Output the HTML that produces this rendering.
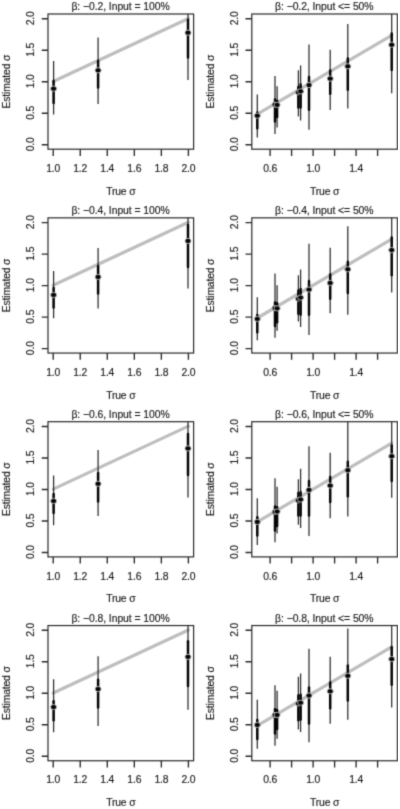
<!DOCTYPE html>
<html><head><meta charset="utf-8"><title>plot</title>
<style>
html,body{margin:0;padding:0;background:#fff;}
body{width:400px;height:809px;overflow:hidden;}
svg{display:block;font-family:"Liberation Sans",sans-serif;}
.ax{stroke:#2a2a2a;stroke-width:1.2;fill:none;}
.t{fill:#1c1c1c;font-size:10.4px;stroke:#1c1c1c;stroke-width:0.16;letter-spacing:-0.17px;}
.tk{stroke-width:1.35;}
.tt{letter-spacing:-0.07px;}
.thin{stroke:#2c2c2c;stroke-width:1.25;}
.thick{stroke:#050505;stroke-width:2.5;stroke-linecap:round;}
.pt{fill:#050505;stroke:#c6c6c6;stroke-width:0.85;}
.g{stroke:#bebebe;stroke-width:3.2;stroke-linecap:round;}
</style></head><body>
<svg width="400" height="809" viewBox="0 0 400 809">
<rect x="0" y="0" width="400" height="809" fill="#fff"/>
<filter id="b" x="0" y="0" width="100%" height="100%" color-interpolation-filters="sRGB"><feConvolveMatrix order="3" divisor="1" edgeMode="none" preserveAlpha="false" kernelMatrix="0.02250 0.10500 0.02250 0.10500 0.49000 0.10500 0.02250 0.10500 0.02250"/></filter>
<g filter="url(#b)">
<g transform="translate(0.00,0.00)">
<clipPath id="c00"><rect x="48.00" y="14.00" width="145.60" height="135.20"/></clipPath>
<g clip-path="url(#c00)">
<line class="g" x1="53.20" y1="81.45" x2="188.40" y2="18.45"/>
<line class="thin" x1="53.60" y1="61.00" x2="53.60" y2="114.50"/><line class="thick" x1="53.60" y1="81.00" x2="53.60" y2="103.00"/><ellipse class="pt" cx="53.60" cy="88.70" rx="3.05" ry="2.6"/>
<line class="thin" x1="98.10" y1="37.60" x2="98.10" y2="104.10"/><line class="thick" x1="98.10" y1="61.00" x2="98.10" y2="87.40"/><ellipse class="pt" cx="98.10" cy="70.30" rx="3.05" ry="2.6"/>
<line class="thin" x1="188.00" y1="10.00" x2="188.00" y2="80.10"/><line class="thick" x1="188.00" y1="20.00" x2="188.00" y2="57.40"/><ellipse class="pt" cx="188.00" cy="32.70" rx="3.05" ry="2.6"/>
</g>
<rect class="ax" x="48.00" y="14.00" width="145.60" height="135.20"/>
<path class="ax tk" d="M48.00 144.75H41.70M48.00 113.25H41.70M48.00 81.75H41.70M48.00 50.25H41.70M48.00 18.75H41.70M53.20 149.20V155.90M80.24 149.20V155.90M107.28 149.20V155.90M134.32 149.20V155.90M161.36 149.20V155.90M188.40 149.20V155.90"/>
<text class="t" text-anchor="middle" transform="translate(34.30,144.35) rotate(-90)">0.0</text><text class="t" text-anchor="middle" transform="translate(34.30,112.85) rotate(-90)">0.5</text><text class="t" text-anchor="middle" transform="translate(34.30,81.35) rotate(-90)">1.0</text><text class="t" text-anchor="middle" transform="translate(34.30,49.85) rotate(-90)">1.5</text><text class="t" text-anchor="middle" transform="translate(34.30,18.35) rotate(-90)">2.0</text>
<text class="t" text-anchor="middle" x="53.20" y="171.90">1.0</text><text class="t" text-anchor="middle" x="80.24" y="171.90">1.2</text><text class="t" text-anchor="middle" x="107.28" y="171.90">1.4</text><text class="t" text-anchor="middle" x="134.32" y="171.90">1.6</text><text class="t" text-anchor="middle" x="161.36" y="171.90">1.8</text><text class="t" text-anchor="middle" x="188.40" y="171.90">2.0</text>
<text class="t" text-anchor="middle" x="120.80" y="194.80">True σ</text>
<text class="t" text-anchor="middle" transform="translate(10.30,81.60) rotate(-90)">Estimated σ</text>
<text class="t tt" text-anchor="middle" x="120.50" y="10.40">β: −0.2, Input = 100%</text>
</g>
<g transform="translate(203.80,0.00)">
<clipPath id="c01"><rect x="48.00" y="14.00" width="145.60" height="135.20"/></clipPath>
<g clip-path="url(#c01)">
<line class="g" x1="53.50" y1="114.15" x2="187.90" y2="35.39"/>
<line class="thin" x1="53.50" y1="94.40" x2="53.50" y2="137.50"/><line class="thick" x1="53.50" y1="112.50" x2="53.50" y2="128.20"/><ellipse class="pt" cx="53.50" cy="115.70" rx="3.05" ry="2.6"/>
<line class="thin" x1="71.20" y1="76.00" x2="71.20" y2="134.00"/><line class="thick" x1="71.20" y1="99.50" x2="71.20" y2="121.40"/><ellipse class="pt" cx="71.20" cy="104.50" rx="3.05" ry="2.6"/>
<line class="thin" x1="73.30" y1="86.20" x2="73.30" y2="127.50"/><line class="thick" x1="73.30" y1="101.00" x2="73.30" y2="116.90"/><ellipse class="pt" cx="73.30" cy="104.90" rx="3.05" ry="2.6"/>
<line class="thin" x1="94.60" y1="70.30" x2="94.60" y2="116.50"/><line class="thick" x1="94.60" y1="87.00" x2="94.60" y2="107.40"/><ellipse class="pt" cx="94.60" cy="92.30" rx="3.05" ry="2.6"/>
<line class="thin" x1="96.80" y1="65.40" x2="96.80" y2="120.50"/><line class="thick" x1="96.80" y1="84.50" x2="96.80" y2="107.40"/><ellipse class="pt" cx="96.80" cy="91.30" rx="3.05" ry="2.6"/>
<line class="thin" x1="105.20" y1="44.50" x2="105.20" y2="129.80"/><line class="thick" x1="105.20" y1="77.00" x2="105.20" y2="109.80"/><ellipse class="pt" cx="105.20" cy="85.10" rx="3.05" ry="2.6"/>
<line class="thin" x1="126.40" y1="49.70" x2="126.40" y2="110.10"/><line class="thick" x1="126.40" y1="70.50" x2="126.40" y2="93.80"/><ellipse class="pt" cx="126.40" cy="78.60" rx="3.05" ry="2.6"/>
<line class="thin" x1="144.00" y1="24.10" x2="144.00" y2="108.50"/><line class="thick" x1="144.00" y1="58.40" x2="144.00" y2="89.70"/><ellipse class="pt" cx="144.00" cy="66.30" rx="3.05" ry="2.6"/>
<line class="thin" x1="187.90" y1="10.00" x2="187.90" y2="93.30"/><line class="thick" x1="187.90" y1="33.50" x2="187.90" y2="70.10"/><ellipse class="pt" cx="187.90" cy="44.80" rx="3.05" ry="2.6"/>
</g>
<rect class="ax" x="48.00" y="14.00" width="145.60" height="135.20"/>
<path class="ax tk" d="M48.00 144.75H41.70M48.00 113.25H41.70M48.00 81.75H41.70M48.00 50.25H41.70M48.00 18.75H41.70M66.30 149.20V155.90M87.80 149.20V155.90M109.30 149.20V155.90M130.80 149.20V155.90M152.30 149.20V155.90M173.80 149.20V155.90"/>
<text class="t" text-anchor="middle" transform="translate(34.30,144.35) rotate(-90)">0.0</text><text class="t" text-anchor="middle" transform="translate(34.30,112.85) rotate(-90)">0.5</text><text class="t" text-anchor="middle" transform="translate(34.30,81.35) rotate(-90)">1.0</text><text class="t" text-anchor="middle" transform="translate(34.30,49.85) rotate(-90)">1.5</text><text class="t" text-anchor="middle" transform="translate(34.30,18.35) rotate(-90)">2.0</text>
<text class="t" text-anchor="middle" x="66.30" y="171.90">0.6</text><text class="t" text-anchor="middle" x="109.30" y="171.90">1.0</text><text class="t" text-anchor="middle" x="152.30" y="171.90">1.4</text>
<text class="t" text-anchor="middle" x="120.80" y="194.80">True σ</text>
<text class="t" text-anchor="middle" transform="translate(10.30,81.60) rotate(-90)">Estimated σ</text>
<text class="t tt" text-anchor="middle" x="120.50" y="10.40">β: −0.2, Input &lt;= 50%</text>
</g>
<g transform="translate(0.00,203.85)">
<clipPath id="c10"><rect x="48.00" y="14.00" width="145.60" height="135.20"/></clipPath>
<g clip-path="url(#c10)">
<line class="g" x1="53.20" y1="81.45" x2="188.40" y2="18.45"/>
<line class="thin" x1="53.60" y1="67.20" x2="53.60" y2="114.30"/><line class="thick" x1="53.60" y1="84.20" x2="53.60" y2="103.60"/><ellipse class="pt" cx="53.60" cy="91.10" rx="3.05" ry="2.6"/>
<line class="thin" x1="98.10" y1="44.20" x2="98.10" y2="104.70"/><line class="thick" x1="98.10" y1="62.20" x2="98.10" y2="89.60"/><ellipse class="pt" cx="98.10" cy="73.10" rx="3.05" ry="2.6"/>
<line class="thin" x1="188.00" y1="10.00" x2="188.00" y2="84.70"/><line class="thick" x1="188.00" y1="21.20" x2="188.00" y2="63.20"/><ellipse class="pt" cx="188.00" cy="37.10" rx="3.05" ry="2.6"/>
</g>
<rect class="ax" x="48.00" y="14.00" width="145.60" height="135.20"/>
<path class="ax tk" d="M48.00 144.75H41.70M48.00 113.25H41.70M48.00 81.75H41.70M48.00 50.25H41.70M48.00 18.75H41.70M53.20 149.20V155.90M80.24 149.20V155.90M107.28 149.20V155.90M134.32 149.20V155.90M161.36 149.20V155.90M188.40 149.20V155.90"/>
<text class="t" text-anchor="middle" transform="translate(34.30,144.35) rotate(-90)">0.0</text><text class="t" text-anchor="middle" transform="translate(34.30,112.85) rotate(-90)">0.5</text><text class="t" text-anchor="middle" transform="translate(34.30,81.35) rotate(-90)">1.0</text><text class="t" text-anchor="middle" transform="translate(34.30,49.85) rotate(-90)">1.5</text><text class="t" text-anchor="middle" transform="translate(34.30,18.35) rotate(-90)">2.0</text>
<text class="t" text-anchor="middle" x="53.20" y="171.90">1.0</text><text class="t" text-anchor="middle" x="80.24" y="171.90">1.2</text><text class="t" text-anchor="middle" x="107.28" y="171.90">1.4</text><text class="t" text-anchor="middle" x="134.32" y="171.90">1.6</text><text class="t" text-anchor="middle" x="161.36" y="171.90">1.8</text><text class="t" text-anchor="middle" x="188.40" y="171.90">2.0</text>
<text class="t" text-anchor="middle" x="120.80" y="194.80">True σ</text>
<text class="t" text-anchor="middle" transform="translate(10.30,81.60) rotate(-90)">Estimated σ</text>
<text class="t tt" text-anchor="middle" x="120.50" y="10.40">β: −0.4, Input = 100%</text>
</g>
<g transform="translate(203.80,203.85)">
<clipPath id="c11"><rect x="48.00" y="14.00" width="145.60" height="135.20"/></clipPath>
<g clip-path="url(#c11)">
<line class="g" x1="53.50" y1="114.15" x2="187.90" y2="35.39"/>
<line class="thin" x1="53.50" y1="93.30" x2="53.50" y2="136.30"/><line class="thick" x1="53.50" y1="111.20" x2="53.50" y2="128.40"/><ellipse class="pt" cx="53.50" cy="115.10" rx="3.05" ry="2.6"/>
<line class="thin" x1="71.20" y1="69.60" x2="71.20" y2="133.80"/><line class="thick" x1="71.20" y1="98.70" x2="71.20" y2="122.10"/><ellipse class="pt" cx="71.20" cy="104.30" rx="3.05" ry="2.6"/>
<line class="thin" x1="73.30" y1="81.50" x2="73.30" y2="127.00"/><line class="thick" x1="73.30" y1="99.30" x2="73.30" y2="118.40"/><ellipse class="pt" cx="73.30" cy="104.50" rx="3.05" ry="2.6"/>
<line class="thin" x1="94.60" y1="71.30" x2="94.60" y2="117.60"/><line class="thick" x1="94.60" y1="86.70" x2="94.60" y2="110.00"/><ellipse class="pt" cx="94.60" cy="94.90" rx="3.05" ry="2.6"/>
<line class="thin" x1="96.80" y1="65.60" x2="96.80" y2="123.20"/><line class="thick" x1="96.80" y1="85.10" x2="96.80" y2="110.80"/><ellipse class="pt" cx="96.80" cy="93.70" rx="3.05" ry="2.6"/>
<line class="thin" x1="105.20" y1="39.90" x2="105.20" y2="131.20"/><line class="thick" x1="105.20" y1="77.10" x2="105.20" y2="110.80"/><ellipse class="pt" cx="105.20" cy="85.70" rx="3.05" ry="2.6"/>
<line class="thin" x1="126.40" y1="43.90" x2="126.40" y2="109.50"/><line class="thick" x1="126.40" y1="70.70" x2="126.40" y2="94.80"/><ellipse class="pt" cx="126.40" cy="79.10" rx="3.05" ry="2.6"/>
<line class="thin" x1="144.00" y1="22.30" x2="144.00" y2="110.90"/><line class="thick" x1="144.00" y1="57.80" x2="144.00" y2="89.10"/><ellipse class="pt" cx="144.00" cy="65.40" rx="3.05" ry="2.6"/>
<line class="thin" x1="187.90" y1="10.00" x2="187.90" y2="88.60"/><line class="thick" x1="187.90" y1="33.70" x2="187.90" y2="71.50"/><ellipse class="pt" cx="187.90" cy="46.20" rx="3.05" ry="2.6"/>
</g>
<rect class="ax" x="48.00" y="14.00" width="145.60" height="135.20"/>
<path class="ax tk" d="M48.00 144.75H41.70M48.00 113.25H41.70M48.00 81.75H41.70M48.00 50.25H41.70M48.00 18.75H41.70M66.30 149.20V155.90M87.80 149.20V155.90M109.30 149.20V155.90M130.80 149.20V155.90M152.30 149.20V155.90M173.80 149.20V155.90"/>
<text class="t" text-anchor="middle" transform="translate(34.30,144.35) rotate(-90)">0.0</text><text class="t" text-anchor="middle" transform="translate(34.30,112.85) rotate(-90)">0.5</text><text class="t" text-anchor="middle" transform="translate(34.30,81.35) rotate(-90)">1.0</text><text class="t" text-anchor="middle" transform="translate(34.30,49.85) rotate(-90)">1.5</text><text class="t" text-anchor="middle" transform="translate(34.30,18.35) rotate(-90)">2.0</text>
<text class="t" text-anchor="middle" x="66.30" y="171.90">0.6</text><text class="t" text-anchor="middle" x="109.30" y="171.90">1.0</text><text class="t" text-anchor="middle" x="152.30" y="171.90">1.4</text>
<text class="t" text-anchor="middle" x="120.80" y="194.80">True σ</text>
<text class="t" text-anchor="middle" transform="translate(10.30,81.60) rotate(-90)">Estimated σ</text>
<text class="t tt" text-anchor="middle" x="120.50" y="10.40">β: −0.4, Input &lt;= 50%</text>
</g>
<g transform="translate(0.00,407.70)">
<clipPath id="c20"><rect x="48.00" y="14.00" width="145.60" height="135.20"/></clipPath>
<g clip-path="url(#c20)">
<line class="g" x1="53.20" y1="81.45" x2="188.40" y2="18.45"/>
<line class="thin" x1="53.60" y1="67.80" x2="53.60" y2="117.50"/><line class="thick" x1="53.60" y1="86.40" x2="53.60" y2="105.40"/><ellipse class="pt" cx="53.60" cy="93.30" rx="3.05" ry="2.6"/>
<line class="thin" x1="98.10" y1="42.40" x2="98.10" y2="108.30"/><line class="thick" x1="98.10" y1="65.40" x2="98.10" y2="93.80"/><ellipse class="pt" cx="98.10" cy="76.10" rx="3.05" ry="2.6"/>
<line class="thin" x1="188.00" y1="10.00" x2="188.00" y2="89.90"/><line class="thick" x1="188.00" y1="26.40" x2="188.00" y2="67.40"/><ellipse class="pt" cx="188.00" cy="40.70" rx="3.05" ry="2.6"/>
</g>
<rect class="ax" x="48.00" y="14.00" width="145.60" height="135.20"/>
<path class="ax tk" d="M48.00 144.75H41.70M48.00 113.25H41.70M48.00 81.75H41.70M48.00 50.25H41.70M48.00 18.75H41.70M53.20 149.20V155.90M80.24 149.20V155.90M107.28 149.20V155.90M134.32 149.20V155.90M161.36 149.20V155.90M188.40 149.20V155.90"/>
<text class="t" text-anchor="middle" transform="translate(34.30,144.35) rotate(-90)">0.0</text><text class="t" text-anchor="middle" transform="translate(34.30,112.85) rotate(-90)">0.5</text><text class="t" text-anchor="middle" transform="translate(34.30,81.35) rotate(-90)">1.0</text><text class="t" text-anchor="middle" transform="translate(34.30,49.85) rotate(-90)">1.5</text><text class="t" text-anchor="middle" transform="translate(34.30,18.35) rotate(-90)">2.0</text>
<text class="t" text-anchor="middle" x="53.20" y="171.90">1.0</text><text class="t" text-anchor="middle" x="80.24" y="171.90">1.2</text><text class="t" text-anchor="middle" x="107.28" y="171.90">1.4</text><text class="t" text-anchor="middle" x="134.32" y="171.90">1.6</text><text class="t" text-anchor="middle" x="161.36" y="171.90">1.8</text><text class="t" text-anchor="middle" x="188.40" y="171.90">2.0</text>
<text class="t" text-anchor="middle" x="120.80" y="194.80">True σ</text>
<text class="t" text-anchor="middle" transform="translate(10.30,81.60) rotate(-90)">Estimated σ</text>
<text class="t tt" text-anchor="middle" x="120.50" y="10.40">β: −0.6, Input = 100%</text>
</g>
<g transform="translate(203.80,407.70)">
<clipPath id="c21"><rect x="48.00" y="14.00" width="145.60" height="135.20"/></clipPath>
<g clip-path="url(#c21)">
<line class="g" x1="53.50" y1="114.15" x2="187.90" y2="35.39"/>
<line class="thin" x1="53.50" y1="90.60" x2="53.50" y2="137.40"/><line class="thick" x1="53.50" y1="109.50" x2="53.50" y2="127.90"/><ellipse class="pt" cx="53.50" cy="114.20" rx="3.05" ry="2.6"/>
<line class="thin" x1="71.20" y1="70.60" x2="71.20" y2="134.60"/><line class="thick" x1="71.20" y1="98.90" x2="71.20" y2="122.90"/><ellipse class="pt" cx="71.20" cy="104.20" rx="3.05" ry="2.6"/>
<line class="thin" x1="73.30" y1="79.10" x2="73.30" y2="125.90"/><line class="thick" x1="73.30" y1="99.50" x2="73.30" y2="118.40"/><ellipse class="pt" cx="73.30" cy="103.80" rx="3.05" ry="2.6"/>
<line class="thin" x1="94.60" y1="71.50" x2="94.60" y2="117.00"/><line class="thick" x1="94.60" y1="85.30" x2="94.60" y2="107.80"/><ellipse class="pt" cx="94.60" cy="92.70" rx="3.05" ry="2.6"/>
<line class="thin" x1="96.80" y1="61.00" x2="96.80" y2="120.20"/><line class="thick" x1="96.80" y1="84.50" x2="96.80" y2="107.80"/><ellipse class="pt" cx="96.80" cy="91.80" rx="3.05" ry="2.6"/>
<line class="thin" x1="105.20" y1="38.50" x2="105.20" y2="128.20"/><line class="thick" x1="105.20" y1="73.30" x2="105.20" y2="107.80"/><ellipse class="pt" cx="105.20" cy="82.20" rx="3.05" ry="2.6"/>
<line class="thin" x1="126.40" y1="45.00" x2="126.40" y2="110.50"/><line class="thick" x1="126.40" y1="69.20" x2="126.40" y2="94.20"/><ellipse class="pt" cx="126.40" cy="77.90" rx="3.05" ry="2.6"/>
<line class="thin" x1="144.00" y1="10.00" x2="144.00" y2="108.70"/><line class="thick" x1="144.00" y1="54.00" x2="144.00" y2="88.50"/><ellipse class="pt" cx="144.00" cy="62.50" rx="3.05" ry="2.6"/>
<line class="thin" x1="187.90" y1="10.00" x2="187.90" y2="90.00"/><line class="thick" x1="187.90" y1="37.90" x2="187.90" y2="73.30"/><ellipse class="pt" cx="187.90" cy="48.50" rx="3.05" ry="2.6"/>
</g>
<rect class="ax" x="48.00" y="14.00" width="145.60" height="135.20"/>
<path class="ax tk" d="M48.00 144.75H41.70M48.00 113.25H41.70M48.00 81.75H41.70M48.00 50.25H41.70M48.00 18.75H41.70M66.30 149.20V155.90M87.80 149.20V155.90M109.30 149.20V155.90M130.80 149.20V155.90M152.30 149.20V155.90M173.80 149.20V155.90"/>
<text class="t" text-anchor="middle" transform="translate(34.30,144.35) rotate(-90)">0.0</text><text class="t" text-anchor="middle" transform="translate(34.30,112.85) rotate(-90)">0.5</text><text class="t" text-anchor="middle" transform="translate(34.30,81.35) rotate(-90)">1.0</text><text class="t" text-anchor="middle" transform="translate(34.30,49.85) rotate(-90)">1.5</text><text class="t" text-anchor="middle" transform="translate(34.30,18.35) rotate(-90)">2.0</text>
<text class="t" text-anchor="middle" x="66.30" y="171.90">0.6</text><text class="t" text-anchor="middle" x="109.30" y="171.90">1.0</text><text class="t" text-anchor="middle" x="152.30" y="171.90">1.4</text>
<text class="t" text-anchor="middle" x="120.80" y="194.80">True σ</text>
<text class="t" text-anchor="middle" transform="translate(10.30,81.60) rotate(-90)">Estimated σ</text>
<text class="t tt" text-anchor="middle" x="120.50" y="10.40">β: −0.6, Input &lt;= 50%</text>
</g>
<g transform="translate(0.00,611.55)">
<clipPath id="c30"><rect x="48.00" y="14.00" width="145.60" height="135.20"/></clipPath>
<g clip-path="url(#c30)">
<line class="g" x1="53.20" y1="81.45" x2="188.40" y2="18.45"/>
<line class="thin" x1="53.60" y1="67.60" x2="53.60" y2="120.70"/><line class="thick" x1="53.60" y1="89.60" x2="53.60" y2="108.60"/><ellipse class="pt" cx="53.60" cy="95.50" rx="3.05" ry="2.6"/>
<line class="thin" x1="98.10" y1="44.60" x2="98.10" y2="114.50"/><line class="thick" x1="98.10" y1="68.20" x2="98.10" y2="96.00"/><ellipse class="pt" cx="98.10" cy="77.50" rx="3.05" ry="2.6"/>
<line class="thin" x1="188.00" y1="10.00" x2="188.00" y2="98.10"/><line class="thick" x1="188.00" y1="29.60" x2="188.00" y2="74.40"/><ellipse class="pt" cx="188.00" cy="45.30" rx="3.05" ry="2.6"/>
</g>
<rect class="ax" x="48.00" y="14.00" width="145.60" height="135.20"/>
<path class="ax tk" d="M48.00 144.75H41.70M48.00 113.25H41.70M48.00 81.75H41.70M48.00 50.25H41.70M48.00 18.75H41.70M53.20 149.20V155.90M80.24 149.20V155.90M107.28 149.20V155.90M134.32 149.20V155.90M161.36 149.20V155.90M188.40 149.20V155.90"/>
<text class="t" text-anchor="middle" transform="translate(34.30,144.35) rotate(-90)">0.0</text><text class="t" text-anchor="middle" transform="translate(34.30,112.85) rotate(-90)">0.5</text><text class="t" text-anchor="middle" transform="translate(34.30,81.35) rotate(-90)">1.0</text><text class="t" text-anchor="middle" transform="translate(34.30,49.85) rotate(-90)">1.5</text><text class="t" text-anchor="middle" transform="translate(34.30,18.35) rotate(-90)">2.0</text>
<text class="t" text-anchor="middle" x="53.20" y="171.90">1.0</text><text class="t" text-anchor="middle" x="80.24" y="171.90">1.2</text><text class="t" text-anchor="middle" x="107.28" y="171.90">1.4</text><text class="t" text-anchor="middle" x="134.32" y="171.90">1.6</text><text class="t" text-anchor="middle" x="161.36" y="171.90">1.8</text><text class="t" text-anchor="middle" x="188.40" y="171.90">2.0</text>
<text class="t" text-anchor="middle" x="120.80" y="194.80">True σ</text>
<text class="t" text-anchor="middle" transform="translate(10.30,81.60) rotate(-90)">Estimated σ</text>
<text class="t tt" text-anchor="middle" x="120.50" y="10.40">β: −0.8, Input = 100%</text>
</g>
<g transform="translate(203.80,611.55)">
<clipPath id="c31"><rect x="48.00" y="14.00" width="145.60" height="135.20"/></clipPath>
<g clip-path="url(#c31)">
<line class="g" x1="53.50" y1="114.15" x2="187.90" y2="35.39"/>
<line class="thin" x1="53.50" y1="88.10" x2="53.50" y2="137.10"/><line class="thick" x1="53.50" y1="108.50" x2="53.50" y2="127.50"/><ellipse class="pt" cx="53.50" cy="113.40" rx="3.05" ry="2.6"/>
<line class="thin" x1="71.20" y1="73.70" x2="71.20" y2="134.20"/><line class="thick" x1="71.20" y1="97.80" x2="71.20" y2="121.90"/><ellipse class="pt" cx="71.20" cy="103.40" rx="3.05" ry="2.6"/>
<line class="thin" x1="73.30" y1="79.30" x2="73.30" y2="127.30"/><line class="thick" x1="73.30" y1="98.50" x2="73.30" y2="117.50"/><ellipse class="pt" cx="73.30" cy="103.40" rx="3.05" ry="2.6"/>
<line class="thin" x1="94.60" y1="65.20" x2="94.60" y2="118.00"/><line class="thick" x1="94.60" y1="83.90" x2="94.60" y2="108.80"/><ellipse class="pt" cx="94.60" cy="92.00" rx="3.05" ry="2.6"/>
<line class="thin" x1="96.80" y1="62.00" x2="96.80" y2="120.40"/><line class="thick" x1="96.80" y1="83.10" x2="96.80" y2="108.00"/><ellipse class="pt" cx="96.80" cy="91.20" rx="3.05" ry="2.6"/>
<line class="thin" x1="105.20" y1="37.10" x2="105.20" y2="130.80"/><line class="thick" x1="105.20" y1="75.90" x2="105.20" y2="112.00"/><ellipse class="pt" cx="105.20" cy="84.00" rx="3.05" ry="2.6"/>
<line class="thin" x1="126.40" y1="45.10" x2="126.40" y2="112.30"/><line class="thick" x1="126.40" y1="71.00" x2="126.40" y2="96.80"/><ellipse class="pt" cx="126.40" cy="79.70" rx="3.05" ry="2.6"/>
<line class="thin" x1="144.00" y1="17.00" x2="144.00" y2="108.30"/><line class="thick" x1="144.00" y1="54.00" x2="144.00" y2="88.90"/><ellipse class="pt" cx="144.00" cy="64.30" rx="3.05" ry="2.6"/>
<line class="thin" x1="187.90" y1="10.00" x2="187.90" y2="95.90"/><line class="thick" x1="187.90" y1="35.70" x2="187.90" y2="73.10"/><ellipse class="pt" cx="187.90" cy="47.50" rx="3.05" ry="2.6"/>
</g>
<rect class="ax" x="48.00" y="14.00" width="145.60" height="135.20"/>
<path class="ax tk" d="M48.00 144.75H41.70M48.00 113.25H41.70M48.00 81.75H41.70M48.00 50.25H41.70M48.00 18.75H41.70M66.30 149.20V155.90M87.80 149.20V155.90M109.30 149.20V155.90M130.80 149.20V155.90M152.30 149.20V155.90M173.80 149.20V155.90"/>
<text class="t" text-anchor="middle" transform="translate(34.30,144.35) rotate(-90)">0.0</text><text class="t" text-anchor="middle" transform="translate(34.30,112.85) rotate(-90)">0.5</text><text class="t" text-anchor="middle" transform="translate(34.30,81.35) rotate(-90)">1.0</text><text class="t" text-anchor="middle" transform="translate(34.30,49.85) rotate(-90)">1.5</text><text class="t" text-anchor="middle" transform="translate(34.30,18.35) rotate(-90)">2.0</text>
<text class="t" text-anchor="middle" x="66.30" y="171.90">0.6</text><text class="t" text-anchor="middle" x="109.30" y="171.90">1.0</text><text class="t" text-anchor="middle" x="152.30" y="171.90">1.4</text>
<text class="t" text-anchor="middle" x="120.80" y="194.80">True σ</text>
<text class="t" text-anchor="middle" transform="translate(10.30,81.60) rotate(-90)">Estimated σ</text>
<text class="t tt" text-anchor="middle" x="120.50" y="10.40">β: −0.8, Input &lt;= 50%</text>
</g>
</g>
</svg>
</body></html>
